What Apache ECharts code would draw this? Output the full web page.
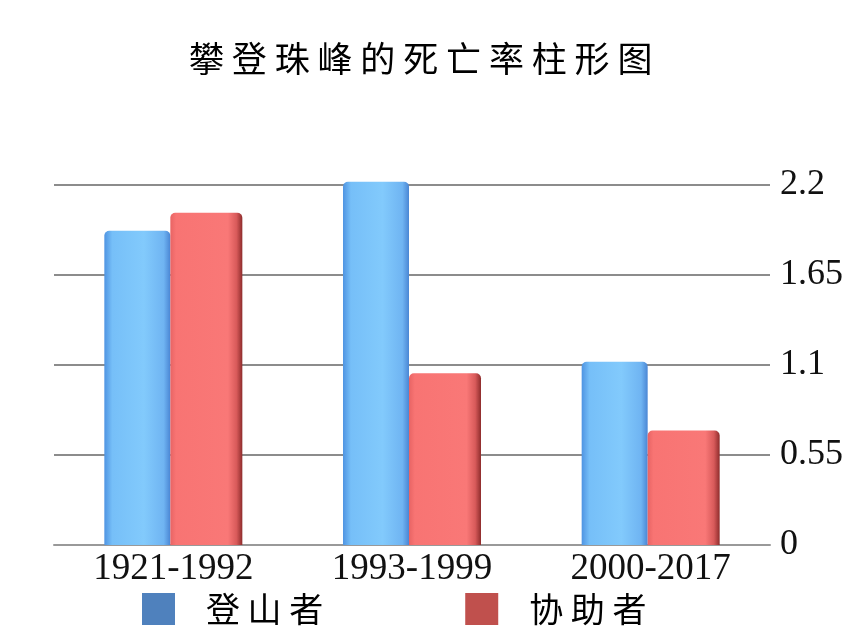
<!DOCTYPE html>
<html>
<head>
<meta charset="utf-8">
<script src="https://cdn.jsdelivr.net/npm/echarts@6/dist/echarts.min.js"></script>
<style>html,body{margin:0;padding:0;background:#fff}#c{width:862px;height:635px}</style>
</head>
<body>
<div id="c"></div>
<script>
const titleText = '攀 登 珠 峰 的 死 亡 率 柱 形 图';
const categories = ['1921-1992', '1993-1999', '2000-2017'];
const seriesNames = ['登山者', '协助者'];
const climbers = [1.92, 2.22, 1.12];
const helpers = [2.03, 1.05, 0.7];
const yTicks = [0, 0.55, 1.1, 1.65, 2.2];

const chart = echarts.init(document.getElementById('c'));
const blueGrad = new echarts.graphic.LinearGradient(0, 0, 1, 0, [
  {offset: 0, color: '#4f94e2'}, {offset: 0.12, color: '#76bff8'},
  {offset: 0.6, color: '#82cafc'}, {offset: 0.9, color: '#6fb4f2'}, {offset: 1, color: '#4a86d4'}
]);
const redGrad = new echarts.graphic.LinearGradient(0, 0, 1, 0, [
  {offset: 0, color: '#e86464'}, {offset: 0.08, color: '#f87473'},
  {offset: 0.8, color: '#f97877'}, {offset: 0.92, color: '#d85a5a'}, {offset: 1, color: '#8e2c2c'}
]);
chart.setOption({
  backgroundColor: '#fff',
  animation: false,
  title: {
    text: titleText, left: 184, top: 36,
    textStyle: {fontFamily: 'Noto Sans CJK SC', fontSize: 35, fontWeight: 'normal', color: '#000'}
  },
  legend: {
    bottom: 4, left: 137, itemWidth: 33, itemHeight: 32, itemGap: 142,
    icon: 'rect',
    data: [
      {name: seriesNames[0], itemStyle: {color: '#4f81bd'}},
      {name: seriesNames[1], itemStyle: {color: '#c0504d'}}
    ],
    formatter: n => n.split('').join(' '),
    textStyle: {fontFamily: 'Noto Sans CJK SC', fontSize: 34, color: '#000', padding: [0, 0, 0, 26]}
  },
  grid: {left: 54, right: 92, top: 185, bottom: 90},
  xAxis: {
    type: 'category', data: categories,
    axisLine: {show: true, lineStyle: {color: '#999', width: 2}},
    axisTick: {show: false},
    axisLabel: {fontFamily: 'Liberation Serif', fontSize: 37, color: '#111', margin: 6}
  },
  yAxis: {
    type: 'value', position: 'right', min: 0, max: 2.2, interval: 0.55,
    axisLine: {show: false}, axisTick: {show: false},
    splitLine: {lineStyle: {color: '#8c8c8c', width: 2}},
    axisLabel: {fontFamily: 'Liberation Serif', fontSize: 36, color: '#111', margin: 10,
      formatter: v => { const t = yTicks.find(x => Math.abs(x - v) < 1e-6); return t === undefined ? '' : String(t); }}
  },
  series: [
    {name: seriesNames[0], type: 'bar', data: climbers, barWidth: 66, barGap: '0%', clip: false,
      itemStyle: {color: blueGrad, borderRadius: [5, 5, 0, 0]}},
    {name: seriesNames[1], type: 'bar', data: helpers, barWidth: 72, clip: false,
      itemStyle: {color: redGrad, borderRadius: [5, 5, 0, 0]}}
  ]
});
</script>
</body>
</html>
